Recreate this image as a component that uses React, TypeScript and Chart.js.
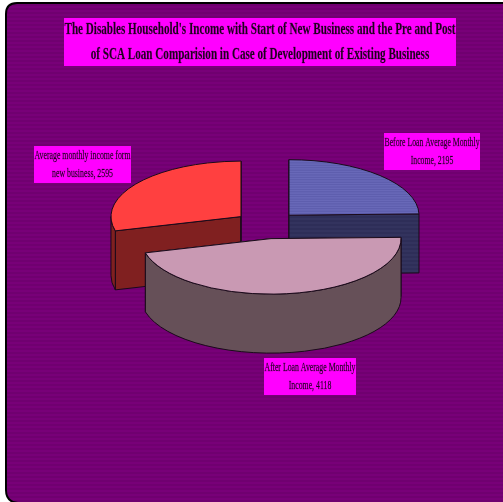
import React, { useEffect, useRef } from "react";
import { Chart, PieController, ArcElement } from "chart.js";

// Income figures per slice
const categoryLines = [
  ["Before Loan Average Monthly", "Income"],
  ["After Loan Average Monthly", "Income"],
  ["Average monthly income form", "new business"],
];
const values = [2195, 4118, 2595];

const titleLines = [
  "The Disables Household's Income with Start of New Business and the Pre and Post",
  "of SCA Loan Comparision in Case of Development of Existing Business",
];

// Label box for each slice: left, top, right, bottom
const labelBoxes = [
  [384, 133, 480, 170],
  [264, 358, 356, 395],
  [34, 146, 131, 183],
];
const titleBox = [64, 18, 456, 66];

const faceColors = ["#6464b4", "#c999b3", "#ff4040"];
const wallColors = ["#33335e", "#665058", "#802020"];

const WIDTH = 503;
const HEIGHT = 502;
const TILT = 0.427; // vertical squash of the pie's top face
const DEPTH = 59; // height of the extruded wall
const EXPLODE = 32.2; // how far each slice is pulled from the centre

function stripes(a: string, b: string, period = 4) {
  const tile = document.createElement("canvas");
  tile.width = 1;
  tile.height = period;
  const c = tile.getContext("2d")!;
  c.fillStyle = a;
  c.fillRect(0, 0, 1, period);
  c.fillStyle = b;
  c.fillRect(0, 0, 1, period / 2);
  return c.createPattern(tile, "repeat")!;
}

// Pie drawn as an extruded, tilted disc: walls first, then the squashed top face.
class Pie3DController extends PieController {
  static id = "pie3d";
  static defaults = {};

  draw() {
    const ctx: CanvasRenderingContext2D = this.chart.ctx;
    const arcs: any[] = [...this.getMeta().data];
    const mid = (a: any) => (a.startAngle + a.endAngle) / 2;
    arcs.sort((p, q) => Math.sin(mid(p)) - Math.sin(mid(q)));

    for (const arc of arcs) {
      const i = this.getMeta().data.indexOf(arc);
      const { x, y, startAngle: s, endAngle: e, outerRadius: R } = arc;
      const dx = Math.cos(mid(arc)) * EXPLODE;
      const dy = Math.sin(mid(arc)) * EXPLODE;
      const ax = x + dx;
      const ay = y + dy * TILT;
      const rim = (t: number, d = 0): [number, number] => [
        ax + R * Math.cos(t),
        ay + R * TILT * Math.sin(t) + d,
      ];

      ctx.save();
      ctx.fillStyle = i === 0 ? stripes("#33335e", "#2e2e58") : wallColors[i];
      ctx.strokeStyle = "#1a0a1a";
      ctx.lineWidth = 1;
      ctx.lineJoin = "round";

      // Flat cut faces
      for (const t of [s, e]) {
        ctx.beginPath();
        ctx.moveTo(ax, ay);
        ctx.lineTo(...rim(t));
        ctx.lineTo(...rim(t, DEPTH));
        ctx.lineTo(ax, ay + DEPTH);
        ctx.closePath();
        ctx.fill();
        ctx.stroke();
      }

      // Outer wall, only where it faces the viewer
      const from = Math.max(s, 0);
      const to = Math.min(e, Math.PI);
      if (to > from) {
        ctx.beginPath();
        ctx.ellipse(ax, ay, R, R * TILT, 0, from, to);
        ctx.lineTo(...rim(to, DEPTH));
        ctx.ellipse(ax, ay + DEPTH, R, R * TILT, 0, to, from, true);
        ctx.closePath();
        ctx.fill();
        ctx.stroke();
      }

      // Top face filled by the arc element itself
      ctx.save();
      ctx.translate(x, y);
      ctx.scale(1, TILT);
      ctx.translate(dx - x, dy - y);
      arc.draw(ctx);
      ctx.restore();

      ctx.beginPath();
      ctx.moveTo(ax, ay);
      ctx.ellipse(ax, ay, R, R * TILT, 0, s, e);
      ctx.closePath();
      ctx.stroke();
      ctx.restore();
    }
  }
}

function boxedText(
  ctx: CanvasRenderingContext2D,
  box: number[],
  lines: string[],
  font: string,
  fit: number,
  lineGap: number,
) {
  const [l, t, r, b] = box;
  ctx.fillStyle = "#ff00ff";
  ctx.fillRect(l, t, r - l, b - t);
  ctx.font = font;
  ctx.fillStyle = "#200020";
  ctx.strokeStyle = "rgba(32,0,32,0.5)";
  ctx.lineWidth = 0.3;
  ctx.textAlign = "center";
  ctx.textBaseline = "middle";
  const longest = Math.max(...lines.map((s) => ctx.measureText(s).width));
  const squeeze = Math.min(1, fit / longest);
  const cx = (l + r) / 2;
  const firstY = (t + b) / 2 + 0.5 - (lineGap * (lines.length - 1)) / 2;
  lines.forEach((s, k) => {
    const w = ctx.measureText(s).width * squeeze;
    ctx.fillText(s, cx, firstY + k * lineGap, w);
    ctx.strokeText(s, cx, firstY + k * lineGap, w);
  });
}

const backdrop = {
  id: "backdrop",
  beforeDraw(chart: any) {
    const ctx: CanvasRenderingContext2D = chart.ctx;
    ctx.save();
    ctx.fillStyle = "#ffffff";
    ctx.fillRect(0, 0, WIDTH, HEIGHT);
    ctx.beginPath();
    ctx.moveTo(WIDTH + 4, 3);
    ctx.lineTo(17, 3);
    ctx.quadraticCurveTo(6, 3, 6, 14);
    ctx.lineTo(6, 490);
    ctx.quadraticCurveTo(6, HEIGHT, 18, HEIGHT + 1);
    ctx.lineTo(WIDTH + 4, HEIGHT + 1);
    ctx.closePath();
    ctx.fillStyle = stripes("#780078", "#700070");
    ctx.fill();
    ctx.strokeStyle = "#000000";
    ctx.lineWidth = 2;
    ctx.stroke();
    ctx.restore();
  },
};

const labels = {
  id: "labels",
  afterDatasetsDraw(chart: any) {
    const ctx: CanvasRenderingContext2D = chart.ctx;
    ctx.save();
    boxedText(ctx, titleBox, titleLines, "bold 16px 'Liberation Serif'", 391, 25);
    categoryLines.forEach((lines, i) => {
      boxedText(
        ctx,
        labelBoxes[i],
        [lines[0], `${lines[1]}, ${values[i]}`],
        "12px 'Liberation Serif'",
        labelBoxes[i][2] - labelBoxes[i][0] - 1,
        18,
      );
    });
    ctx.restore();
  },
};

Chart.register(Pie3DController, ArcElement);

export default function App() {
  const ref = useRef<HTMLCanvasElement>(null);

  useEffect(() => {
    const chart = new Chart(ref.current!, {
      type: "pie3d" as any,
      data: {
        labels: categoryLines.map((l) => l.join(" ")),
        datasets: [
          {
            data: values,
            backgroundColor: [stripes("#6868b8", "#5e5eae"), faceColors[1], faceColors[2]],
            borderWidth: 0,
            radius: 130,
          } as any,
        ],
      },
      options: {
        responsive: false,
        animation: false,
        events: [],
        layout: { padding: { left: 30, right: 0, top: 0, bottom: 52 } },
        plugins: { legend: { display: false }, tooltip: { enabled: false } } as any,
      },
      plugins: [backdrop, labels],
    });
    return () => chart.destroy();
  }, []);

  return (
    <div style={{ position: "fixed", left: 0, top: 0, width: WIDTH, height: HEIGHT, overflow: "hidden" }}>
      <canvas ref={ref} width={WIDTH} height={HEIGHT} style={{ display: "block" }} />
    </div>
  );
}
